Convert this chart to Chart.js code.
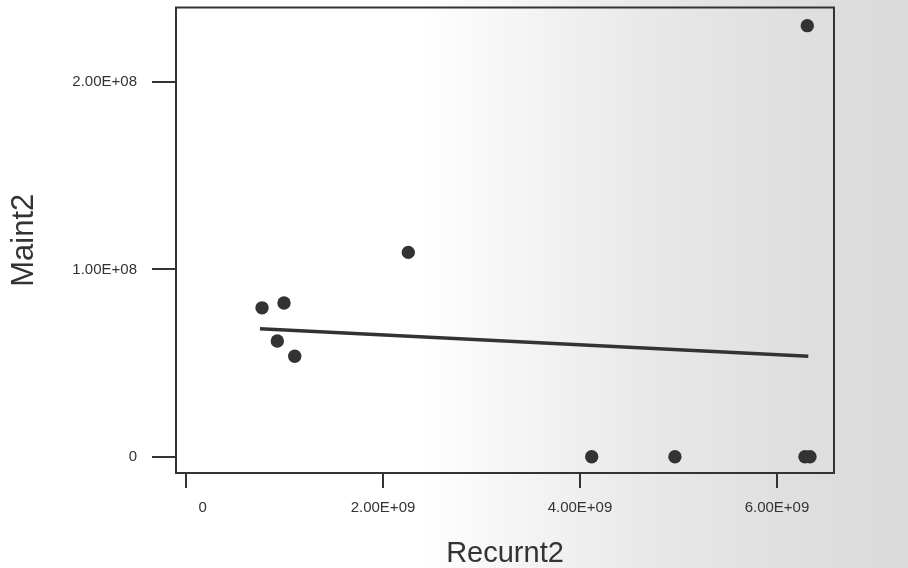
<!DOCTYPE html>
<html>
<head>
<meta charset="utf-8">
<script src="https://cdn.jsdelivr.net/npm/chart.js@4"></script>
<style>
  html, body { margin: 0; padding: 0; }
  body {
    width: 908px; height: 568px; overflow: hidden;
    background: linear-gradient(to right, #ffffff 0%, #ffffff 46%, #f4f4f4 58%, #e8e8e8 72%, #e0e0e0 86%, #dadada 100%);
  }
  #myChart { display: block; }
</style>
</head>
<body>
<canvas id="myChart" width="908" height="568"></canvas>
<script>
// scatter data
var recurnt2 = [0.772e9, 0.995e9, 0.927e9, 1.104e9, 2.257e9, 4.119e9, 4.964e9, 6.308e9, 6.284e9, 6.335e9];
var maint2 = [0.795e8, 0.821e8, 0.618e8, 0.537e8, 1.091e8, 0, 0, 2.301e8, 0, 0];

// fitted regression line end points
var fitX = [0.751e9, 6.318e9];
var fitY = [0.683e8, 0.537e8];

// axis ticks
var xTicks = [0, 2e9, 4e9, 6e9];
var xTickLabels = ["0", "2.00E+09", "4.00E+09", "6.00E+09"];
var yTicks = [0, 1e8, 2e8];
var yTickLabels = ["0", "1.00E+08", "2.00E+08"];

var ink = "#333333";
var fam = "'Liberation Sans', Arial, sans-serif";

var points = recurnt2.map(function(x, i) {
  return { x: x, y: maint2[i] };
});
var fitLine = fitX.map(function(x, i) {
  return { x: x, y: fitY[i] };
});

// box around the plot area
var boxPlugin = {
  id: "box",
  afterDraw: function(chart) {
    var a = chart.chartArea;
    var ctx = chart.ctx;
    ctx.save();
    ctx.strokeStyle = ink;
    ctx.lineWidth = 2;
    ctx.strokeRect(a.left, a.top, a.right - a.left, a.bottom - a.top);
    ctx.restore();
  }
};

function noPad(scale) {
  scale.paddingTop = 0;
  scale.paddingBottom = 0;
  scale.paddingLeft = 0;
  scale.paddingRight = 0;
}

var ctx = document.getElementById("myChart").getContext("2d");
var myChart = new Chart(ctx, {
  type: "scatter",
  data: {
    datasets: [
      {
        data: points,
        backgroundColor: ink,
        borderWidth: 0,
        pointRadius: 6.7
      },
      {
        type: "line",
        data: fitLine,
        borderColor: ink,
        borderWidth: 3.5,
        pointRadius: 0,
        fill: false
      }
    ]
  },
  options: {
    responsive: false,
    animation: false,
    layout: { padding: { top: 7.5, right: 74, left: 0, bottom: 0 } },
    plugins: { legend: { display: false }, tooltip: { enabled: false } },
    scales: {
      x: {
        type: "linear",
        min: -0.1015e9,
        max: 6.579e9,
        afterFit: function(scale) { scale.height = 95; noPad(scale); },
        afterBuildTicks: function(scale) {
          scale.ticks = xTicks.map(function(v) { return { value: v }; });
        },
        ticks: {
          color: ink,
          font: { family: fam, size: 15 },
          padding: 11,
          maxRotation: 0,
          autoSkip: false,
          callback: function(value) {
            var i = xTicks.indexOf(value);
            var t = i >= 0 ? xTickLabels[i] : "";
            // the scan puts the "0" a little right of its tick
            if (value === 0) t = "        " + t;
            return t;
          }
        },
        grid: { drawOnChartArea: false, drawTicks: true, tickLength: 15, color: ink, lineWidth: 2 },
        border: { display: false },
        title: {
          display: true,
          text: "Recurnt2",
          color: ink,
          font: { family: fam, size: 29, lineHeight: 1.0 },
          padding: { top: 0, bottom: 0 }
        }
      },
      y: {
        type: "linear",
        min: -0.0865e8,
        max: 2.398e8,
        afterFit: function(scale) { scale.width = 176; noPad(scale); },
        afterBuildTicks: function(scale) {
          scale.ticks = yTicks.map(function(v) { return { value: v }; });
        },
        ticks: {
          color: ink,
          font: { family: fam, size: 15 },
          padding: 15,
          autoSkip: false,
          callback: function(value) {
            var i = yTicks.indexOf(value);
            return i >= 0 ? yTickLabels[i] : "";
          }
        },
        grid: { drawOnChartArea: false, drawTicks: true, tickLength: 24, color: ink, lineWidth: 2 },
        border: { display: false },
        title: {
          display: true,
          text: "Maint2",
          color: ink,
          font: { family: fam, size: 31, lineHeight: 1.0 },
          padding: { top: 9, bottom: 0 }
        }
      }
    }
  },
  plugins: [boxPlugin]
});
</script>
</body>
</html>
